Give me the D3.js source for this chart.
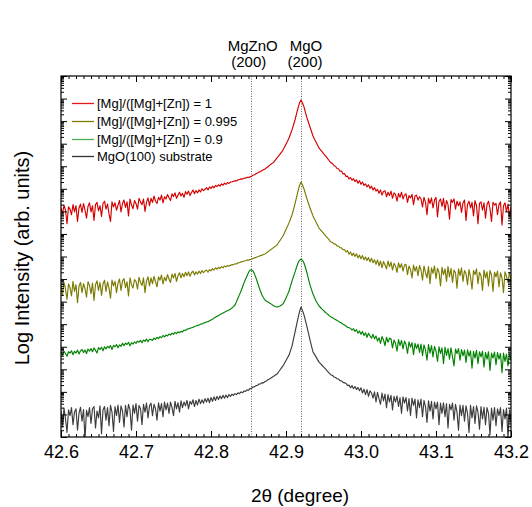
<!DOCTYPE html>
<html><head><meta charset="utf-8">
<script src="https://cdn.jsdelivr.net/npm/d3@7"></script>
<style>body{margin:0;background:#fff}svg{display:block;font-family:"Liberation Sans",Arial,Helvetica,sans-serif}</style>
</head><body><svg id="c" width="532" height="507"></svg>
<script>
// ---- data ----
const xTicks = [42.6, 42.7, 42.8, 42.9, 43.0, 43.1, 43.2];
const xTickLabels = ["42.6", "42.7", "42.8", "42.9", "43.0", "43.1", "43.2"];
const peakPositions = [42.853, 42.92];
const peakNames = ["MgZnO", "MgO"];
const peakHkl = ["(200)", "(200)"];
const seriesNames = ["[Mg]/([Mg]+[Zn]) = 1", "[Mg]/([Mg]+[Zn]) = 0.995", "[Mg]/([Mg]+[Zn]) = 0.9", "MgO(100) substrate"];
const seriesColors = ["#d40000", "#7a7a00", "#008200", "#3c3c3c"];
const thetaStart = 42.6, thetaStep = 0.002;
// log10 intensity (arb. units, curves offset for clarity), one value per 0.002 deg
const logI_x1 = [
10.15,9.90,10.28,10.05,9.45,10.20,10.10,9.85,10.30,9.98,
10.25,9.55,10.15,10.32,9.95,10.35,10.05,9.70,10.22,10.38,
9.98,10.25,9.60,10.30,10.40,10.02,10.25,9.78,10.35,10.45,
10.10,10.32,9.90,9.55,10.42,10.20,10.38,10.05,10.28,10.48,
9.98,10.35,10.50,10.18,10.42,9.80,10.55,10.28,10.12,10.48,
10.35,10.10,10.58,10.42,10.30,10.55,10.00,10.40,10.60,10.25,
10.58,10.40,10.68,10.45,10.35,10.62,10.50,10.72,10.38,10.65,
10.55,10.75,10.60,10.48,10.78,10.66,10.82,10.58,10.72,10.85,
10.68,10.80,10.62,10.88,10.76,10.90,10.70,10.84,10.95,10.78,
10.92,10.82,10.95,10.86,11.00,10.92,10.98,11.05,10.95,11.08,
11.02,11.12,11.04,11.15,11.10,11.18,11.12,11.22,11.16,11.25,
11.20,11.28,11.24,11.30,11.31,11.33,11.36,11.35,11.40,11.41,
11.44,11.43,11.48,11.47,11.51,11.50,11.53,11.55,11.60,11.62,
11.67,11.70,11.74,11.77,11.81,11.85,11.88,11.93,11.98,12.04,
12.09,12.14,12.19,12.28,12.37,12.45,12.54,12.63,12.72,12.85,
12.98,13.11,13.25,13.43,13.61,13.83,14.05,14.32,14.58,14.80,
14.94,14.80,14.63,14.38,14.14,13.94,13.74,13.54,13.34,13.20,
13.07,12.94,12.81,12.73,12.65,12.56,12.48,12.40,12.32,12.23,
12.15,12.12,12.02,12.00,11.90,11.89,11.78,11.79,11.66,11.68,
11.55,11.56,11.44,11.50,11.38,11.45,11.32,11.40,11.25,11.36,
11.20,11.30,11.15,11.22,11.08,11.18,11.02,11.12,10.95,11.05,
10.90,10.98,10.80,10.95,10.72,10.88,10.92,10.65,10.85,10.70,
10.90,10.58,10.82,10.75,10.45,10.80,10.62,10.85,10.55,10.72,
10.78,10.40,10.70,10.60,10.75,10.30,10.68,10.72,10.50,10.65,
10.55,10.20,10.62,10.40,9.85,10.58,10.35,10.60,10.15,10.50,
10.62,9.75,10.45,10.55,10.22,10.58,10.05,10.48,10.30,9.65,
10.52,10.40,10.55,10.10,10.45,10.25,10.42,9.95,10.38,10.50,
9.60,10.30,10.45,10.15,10.40,9.80,10.48,10.25,9.45,10.35,
10.42,10.05,10.38,9.70,10.30,10.45,10.12,9.55,10.40,10.28,
10.35,9.85,10.30,10.42,9.40,10.25,10.38,10.00,10.32,9.75,
10.20];
const logI_x0995 = [
6.70,6.30,6.85,6.55,6.10,6.78,6.62,6.25,6.90,6.45,
6.75,5.95,6.68,6.85,6.40,6.80,6.58,6.20,6.88,6.72,
6.35,6.82,6.05,6.75,6.92,6.50,6.85,6.28,6.78,6.95,
6.45,6.88,6.60,6.15,6.95,6.70,6.90,6.40,6.82,7.00,
6.50,6.92,7.02,6.62,6.88,6.25,7.05,6.75,6.60,6.98,
6.90,6.55,7.08,6.85,6.72,7.05,6.40,6.92,7.10,6.70,
7.05,6.80,7.12,6.88,6.65,7.10,6.95,7.18,6.78,7.08,
6.92,7.20,7.00,6.85,7.22,7.05,7.25,6.90,7.15,7.28,
7.05,7.25,7.10,7.30,7.15,7.32,7.12,7.28,7.35,7.18,
7.32,7.22,7.35,7.25,7.38,7.28,7.36,7.40,7.30,7.42,
7.36,7.46,7.40,7.50,7.44,7.52,7.47,7.55,7.50,7.58,
7.54,7.60,7.57,7.62,7.63,7.64,7.68,7.67,7.72,7.73,
7.76,7.77,7.80,7.81,7.84,7.84,7.86,7.88,7.91,7.94,
7.96,7.99,8.01,8.04,8.06,8.09,8.11,8.16,8.21,8.26,
8.31,8.36,8.41,8.46,8.51,8.61,8.71,8.81,8.91,9.05,
9.20,9.34,9.49,9.66,9.84,10.08,10.33,10.62,10.90,11.15,
11.30,11.17,10.99,10.77,10.55,10.35,10.15,9.97,9.80,9.66,
9.53,9.40,9.26,9.18,9.10,9.03,8.95,8.87,8.80,8.72,
8.64,8.62,8.56,8.55,8.47,8.46,8.39,8.38,8.30,8.31,
8.20,8.26,8.10,8.20,8.04,8.15,8.00,8.12,7.94,8.06,
7.90,8.04,7.85,7.98,7.82,7.95,7.76,7.92,7.72,7.86,
7.65,7.85,7.58,7.80,7.50,7.78,7.62,7.45,7.80,7.55,
7.75,7.40,7.70,7.58,7.30,7.72,7.50,7.68,7.35,7.62,
7.65,7.20,7.58,7.42,7.05,7.62,7.35,7.55,7.15,7.60,
7.40,6.95,7.58,7.28,7.05,7.55,6.80,7.50,7.25,7.58,
7.02,7.48,7.30,6.70,7.52,7.20,7.45,6.90,7.55,7.10,
7.48,6.85,7.40,7.28,6.60,7.45,7.15,7.50,6.90,7.38,
7.25,6.75,7.42,7.10,6.55,7.38,7.20,7.45,6.80,7.30,
7.15,6.50,7.40,7.05,7.32,6.70,7.38,7.18,6.45,7.30,
7.10,7.35,6.65,7.28,7.05,6.40,7.32,7.12,6.85,7.30,
6.95];
const logI_x09 = [
3.75,3.62,3.80,3.70,3.58,3.78,3.72,3.82,3.65,3.80,
3.72,3.85,3.68,3.82,3.88,3.74,3.86,3.70,3.90,3.80,
3.92,3.78,3.95,3.84,3.72,3.96,3.88,3.98,3.82,4.00,
3.90,4.02,3.95,4.05,3.88,4.06,4.00,4.10,3.96,4.08,
4.02,4.15,4.05,4.16,4.10,4.20,4.04,4.18,4.12,4.22,
4.15,4.25,4.20,4.28,4.18,4.30,4.24,4.34,4.22,4.33,
4.32,4.28,4.38,4.33,4.42,4.36,4.45,4.40,4.50,4.44,
4.52,4.48,4.56,4.52,4.60,4.55,4.64,4.58,4.66,4.62,
4.68,4.66,4.74,4.72,4.78,4.79,4.82,4.84,4.86,4.90,
4.92,4.95,4.96,5.00,5.01,5.05,5.07,5.10,5.11,5.15,
5.19,5.22,5.27,5.31,5.35,5.38,5.43,5.46,5.50,5.53,
5.57,5.60,5.63,5.67,5.72,5.78,5.85,6.00,6.16,6.31,
6.47,6.65,6.83,6.99,7.14,7.29,7.40,7.41,7.36,7.22,
7.05,6.85,6.65,6.46,6.29,6.17,6.07,6.02,5.98,5.94,
5.90,5.85,5.81,5.78,5.76,5.78,5.81,5.85,5.90,6.02,
6.16,6.31,6.47,6.69,6.91,7.12,7.31,7.52,7.71,7.83,
7.89,7.83,7.71,7.50,7.27,7.00,6.74,6.53,6.34,6.18,
6.03,5.92,5.81,5.74,5.67,5.61,5.54,5.48,5.43,5.37,
5.32,5.29,5.24,5.21,5.16,5.13,5.08,5.05,5.00,4.96,
4.92,4.86,4.84,4.82,4.74,4.80,4.68,4.76,4.60,4.70,
4.55,4.68,4.50,4.62,4.42,4.60,4.48,4.38,4.55,4.35,
4.48,4.25,4.40,4.15,4.45,4.30,4.05,4.42,4.20,4.38,
4.35,3.95,4.30,4.15,3.80,4.32,4.05,4.28,3.90,4.25,
4.10,3.70,4.22,3.98,4.18,3.65,4.15,3.92,4.12,3.75,
4.12,3.60,4.08,3.85,3.40,4.10,3.72,4.05,3.55,4.02,
3.80,3.35,4.00,3.70,3.95,3.25,3.98,3.62,3.92,3.45,
3.95,3.55,3.15,3.90,3.70,3.92,3.40,3.88,3.60,3.85,
3.30,3.86,3.58,3.82,3.05,3.80,3.50,3.84,3.25,3.78,
3.55,3.80,3.10,3.75,3.45,3.78,2.95,3.72,3.50,3.76,
3.20,3.74,3.45,3.70,2.85,3.72,3.35,3.68,3.15,3.70,
3.40];
const logI_sub = [
1.15,0.45,1.28,0.80,0.20,1.20,0.95,1.30,0.55,1.10,
1.25,0.30,1.05,1.32,0.70,1.22,-0.10,1.18,0.90,1.30,
0.60,1.25,1.35,0.40,1.15,0.85,1.38,0.15,1.20,1.35,
0.75,1.30,0.50,1.40,1.10,0.25,1.35,0.95,1.42,0.65,
1.38,1.15,0.45,1.40,0.90,1.45,1.20,0.30,1.42,1.05,
1.48,0.70,1.40,1.25,0.55,1.45,1.10,1.50,0.85,1.38,
1.50,0.95,1.45,1.25,0.75,1.52,1.15,1.48,0.90,1.55,
1.20,1.50,1.05,1.55,1.30,0.95,1.58,1.25,1.52,1.10,
1.60,1.30,1.55,1.38,1.62,1.25,1.58,1.45,1.65,1.35,
1.62,1.42,1.68,1.48,1.65,1.50,1.70,1.55,1.72,1.52,
1.75,1.58,1.78,1.62,1.80,1.66,1.82,1.70,1.85,1.72,
1.86,1.74,1.88,1.80,1.90,1.84,1.92,1.88,1.96,1.92,
2.00,1.96,2.04,2.02,2.09,2.07,2.15,2.14,2.22,2.22,
2.28,2.29,2.35,2.35,2.41,2.40,2.46,2.48,2.54,2.57,
2.62,2.66,2.70,2.75,2.79,2.88,2.97,3.06,3.15,3.27,
3.39,3.51,3.63,3.83,4.03,4.34,4.65,4.96,5.27,5.55,
5.76,5.60,5.41,5.15,4.88,4.59,4.30,4.03,3.77,3.66,
3.55,3.43,3.32,3.25,3.18,3.11,3.04,2.96,2.89,2.82,
2.75,2.73,2.66,2.64,2.58,2.57,2.50,2.49,2.42,2.40,
2.38,2.28,2.30,2.18,2.28,2.14,2.24,2.10,2.20,2.05,
2.18,1.95,2.12,1.88,2.10,1.80,2.05,1.95,1.72,2.00,
1.55,1.98,1.70,1.45,1.95,1.60,1.90,1.30,1.88,1.55,
1.85,1.20,1.80,1.55,1.82,1.35,1.75,1.05,1.78,1.50,
1.75,1.15,1.70,0.95,1.72,1.40,1.68,0.85,1.65,1.30,
1.68,0.90,1.62,1.35,0.65,1.60,1.15,1.58,0.80,1.55,
1.25,1.55,0.55,1.50,1.05,1.52,0.90,1.48,0.40,1.45,
1.20,1.50,0.75,1.45,1.10,0.30,1.42,0.95,1.40,0.70,
1.38,1.05,0.20,1.40,0.85,1.35,0.60,1.38,1.10,0.35,
1.35,0.80,1.32,0.55,1.30,1.05,0.10,1.28,0.75,1.30,
0.50,1.25,0.95,1.30,0.25,1.22,0.80,1.28,-0.05,1.20,
0.70];
const series = [logI_x1, logI_x0995, logI_x09, logI_sub];

// ---- chart ----
const svg = d3.select("#c");
const L = 61, R = 511, T = 76, B = 437;
const x = d3.scaleLinear().domain([42.6, 43.2]).range([L, R]);
const y = d3.scaleLog().domain([1, 1e16]).range([B, T]);

svg.append("defs").append("clipPath").attr("id", "clip")
  .append("rect").attr("x", L).attr("y", T).attr("width", R - L).attr("height", B - T);

// dotted reference lines
svg.append("g").selectAll("line").data(peakPositions).join("line")
  .attr("x1", d => Math.round(x(d)) + 0.5).attr("x2", d => Math.round(x(d)) + 0.5)
  .attr("y1", T).attr("y2", B)
  .attr("stroke", "#666").attr("stroke-width", 1).attr("stroke-dasharray", "1,1.5");

// curves
const line = d3.line()
  .x((d, i) => x(thetaStart + i * thetaStep))
  .y(d => y(Math.pow(10, d)));
svg.append("g").attr("clip-path", "url(#clip)").selectAll("path").data(series).join("path")
  .attr("d", d => line(d)).attr("fill", "none")
  .attr("stroke", (d, i) => seriesColors[i]).attr("stroke-width", 1.15)
  .attr("stroke-linejoin", "round");

// axes
const minorX = d3.range(0, 61).map(k => 42.6 + k * 0.01);
const noLbl = () => "";
function styleAxis(g) { g.select(".domain").remove(); g.selectAll("line").attr("stroke", "#000"); }
svg.append("g").attr("transform", `translate(0,${B})`).call(d3.axisTop(x).tickValues(minorX).tickSize(3).tickFormat(noLbl)).call(styleAxis);
svg.append("g").attr("transform", `translate(0,${B})`).call(d3.axisTop(x).tickValues(xTicks).tickSize(6).tickFormat(noLbl)).call(styleAxis);
svg.append("g").attr("transform", `translate(0,${T})`).call(d3.axisBottom(x).tickValues(minorX).tickSize(3).tickFormat(noLbl)).call(styleAxis);
svg.append("g").attr("transform", `translate(0,${T})`).call(d3.axisBottom(x).tickValues(xTicks).tickSize(6).tickFormat(noLbl)).call(styleAxis);
const lblAxis = svg.append("g").attr("transform", `translate(0,${B})`)
  .call(d3.axisBottom(x).tickValues(xTicks).tickSize(0).tickPadding(8).tickFormat((d, i) => xTickLabels[i]));
lblAxis.select(".domain").remove();
lblAxis.selectAll("text").attr("font-size", 18).attr("font-family", "Liberation Sans, Arial, sans-serif").attr("fill", "#000");

const majorY = d3.range(0, 17).map(k => Math.pow(10, k));
const minorY = [];
for (let k = 0; k < 16; k++) for (let m = 2; m <= 9; m++) minorY.push(m * Math.pow(10, k));
svg.append("g").attr("transform", `translate(${L},0)`).call(d3.axisRight(y).tickValues(minorY).tickSize(3).tickFormat(noLbl)).call(styleAxis);
svg.append("g").attr("transform", `translate(${L},0)`).call(d3.axisRight(y).tickValues(majorY).tickSize(6).tickFormat(noLbl)).call(styleAxis);
svg.append("g").attr("transform", `translate(${R},0)`).call(d3.axisLeft(y).tickValues(minorY).tickSize(3).tickFormat(noLbl)).call(styleAxis);
svg.append("g").attr("transform", `translate(${R},0)`).call(d3.axisLeft(y).tickValues(majorY).tickSize(6).tickFormat(noLbl)).call(styleAxis);

// frame
svg.append("rect").attr("x", L).attr("y", T).attr("width", R - L).attr("height", B - T)
  .attr("fill", "none").attr("stroke", "#000").attr("stroke-width", 1.2);

// peak labels
const lblOff = [2, 5];
peakPositions.forEach((p, i) => {
  svg.append("text").attr("x", x(p) + lblOff[i]).attr("y", 51).attr("text-anchor", "middle")
    .attr("font-size", 15).text(peakNames[i]);
  svg.append("text").attr("x", x(p) + lblOff[i] - (i === 0 ? 4 : 1)).attr("y", 67).attr("text-anchor", "middle")
    .attr("font-size", 15).text(peakHkl[i]);
});

// legend
const legColors = ["#e81818", "#808000", "#4caf50", "#333333"];
const legY = [103.5, 121.5, 139.5, 156.5];
const leg = svg.append("g");
seriesNames.forEach((n, i) => {
  leg.append("line").attr("x1", 72).attr("x2", 94).attr("y1", legY[i]).attr("y2", legY[i])
    .style("stroke", legColors[i]).style("stroke-width", 1.3);
  leg.append("text").attr("x", 97).attr("y", legY[i]).attr("dy", "0.35em")
    .attr("font-size", 13).text(n);
});

// axis titles
svg.append("text").attr("x", 300).attr("y", 502).attr("text-anchor", "middle")
  .attr("font-size", 19).text("2θ (degree)");
svg.append("text").attr("transform", "translate(29,258) rotate(-90)").attr("text-anchor", "middle")
  .attr("font-size", 20).text("Log Intensity (arb. units)");
</script></body></html>
